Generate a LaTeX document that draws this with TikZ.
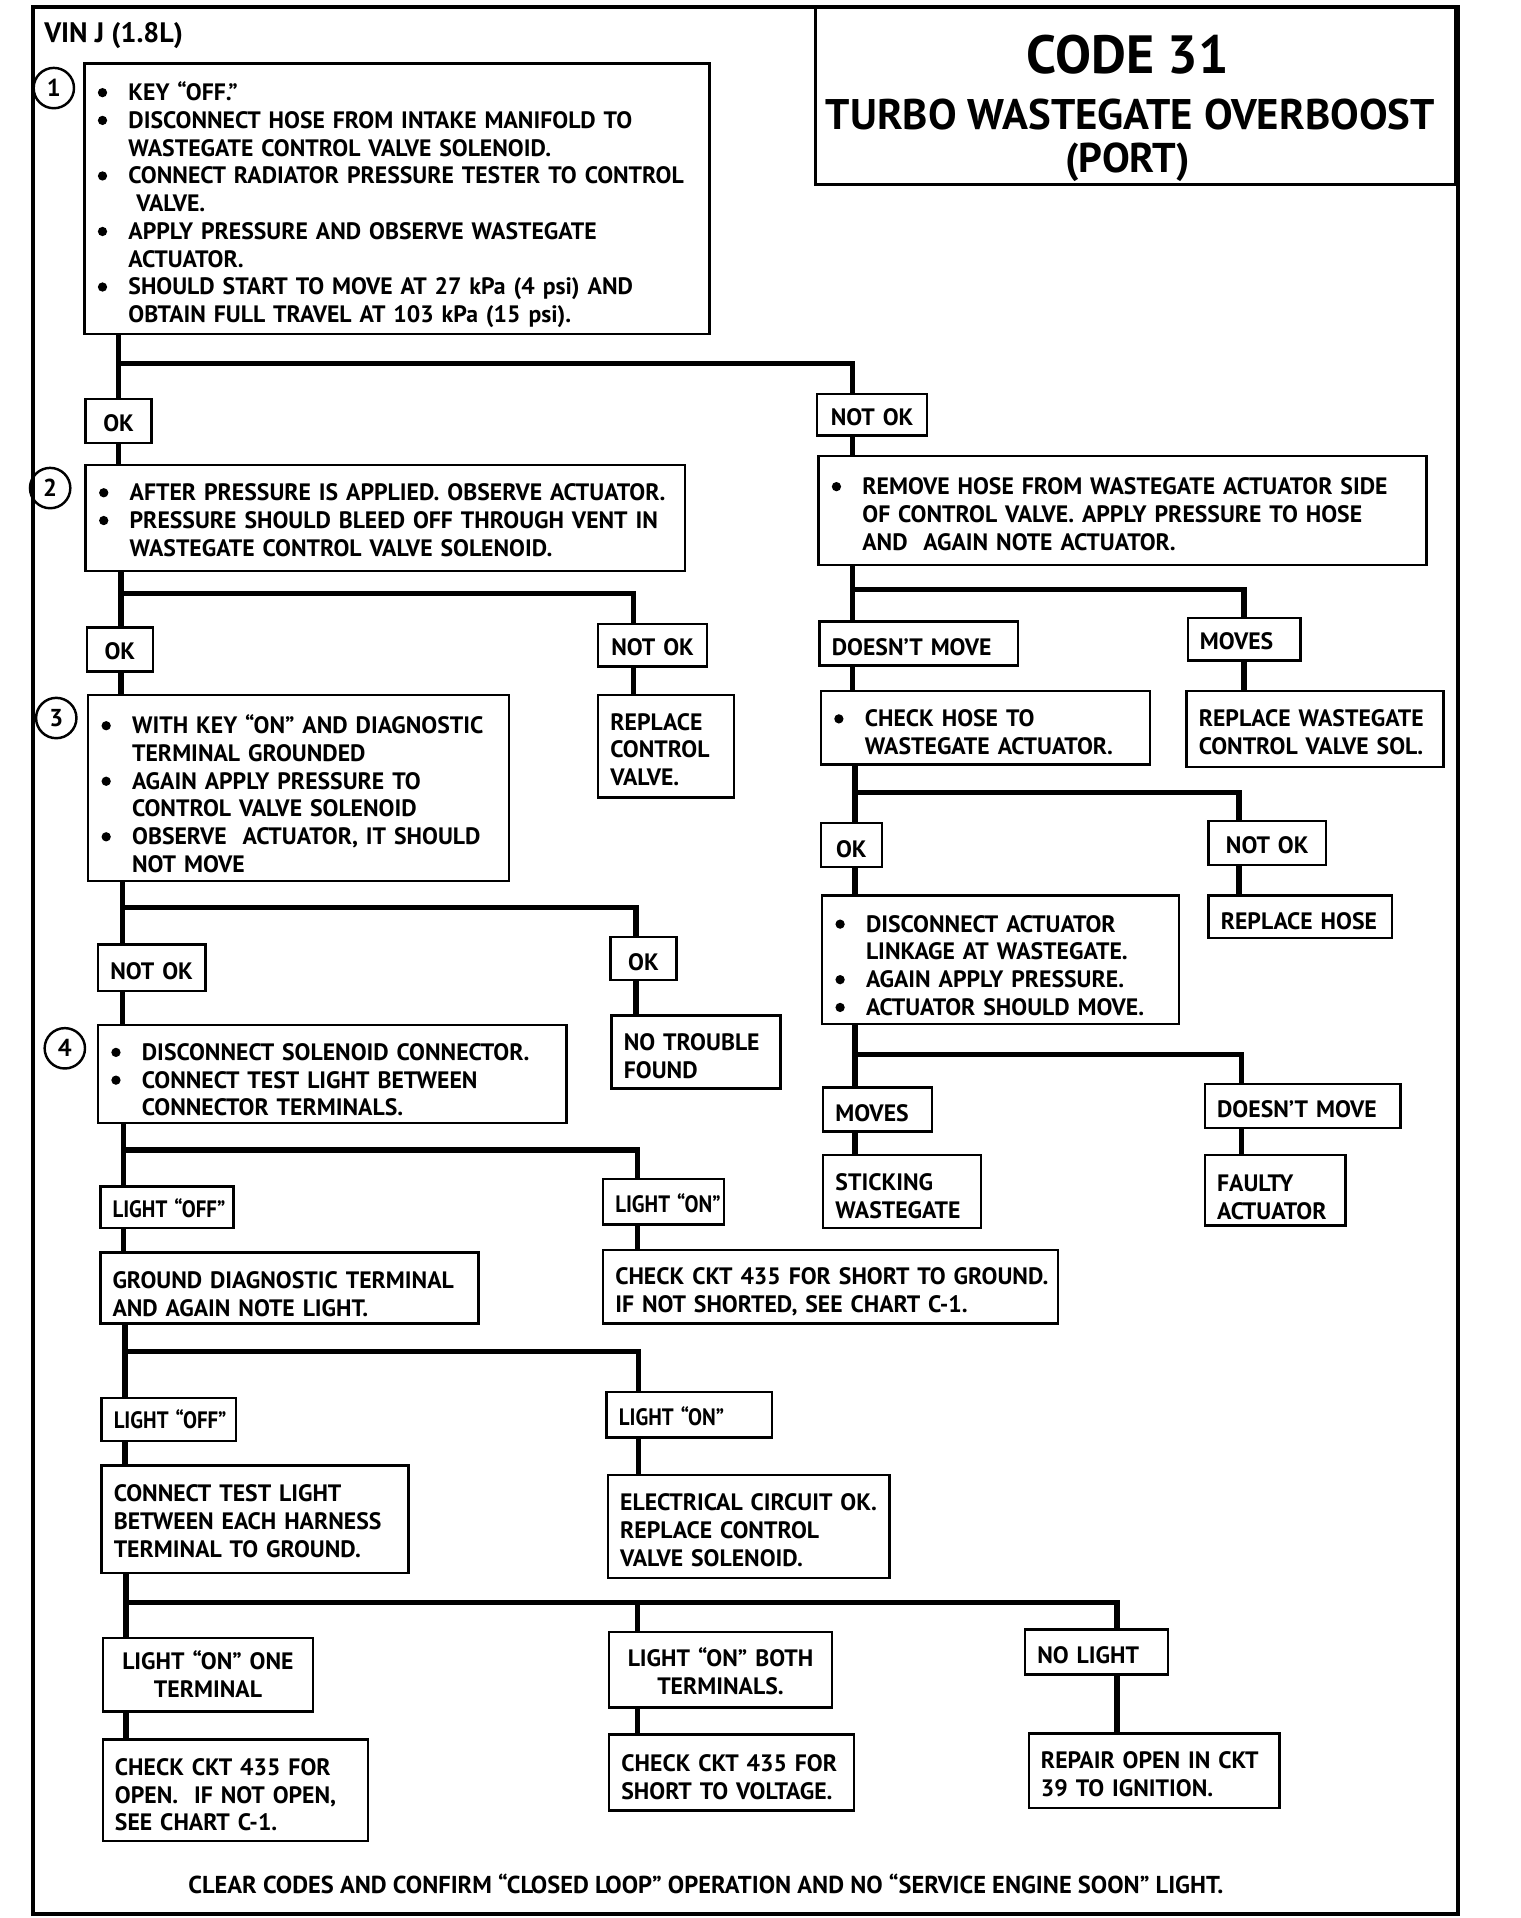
\documentclass[tikz,border=0pt]{standalone}
\usepackage{fontspec}
\usepackage{graphicx}
\setmainfont{PT Sans}
\usetikzlibrary{calc}
\newcommand\bodyfont{\fontsize{19.4}{22.7}\selectfont\bfseries}
\newcommand\bul{\makebox[26pt][l]{\hspace{1pt}\tikz[baseline=-6.5pt,x=1pt,y=1pt]\fill (0,0) circle (3.8pt);}}
\newcommand\ls[1]{\begin{tabular}{@{}l@{}}#1\end{tabular}}
\newcommand\cs[1]{\begin{tabular}{@{}c@{}}#1\end{tabular}}
\newcommand\bs[1]{\begin{tabular}{@{}l@{}l@{}}#1\end{tabular}}
\newcommand\nar[1]{\scalebox{0.88}[1]{#1}}
\newcommand\bxshift{5pt}
\tikzset{
  tsh/.code={\renewcommand\bxshift{#1pt}},
  bxs/.style={draw, line width=2pt, inner xsep=10pt, inner ysep=0pt, outer sep=0pt, align=left, font=\bodyfont},
  ctr/.style={align=center},
  conn/.style={line width=4.5pt},
  num/.style={circle, draw, line width=2pt, minimum size=33pt, inner sep=0pt, font=\fontsize{20}{20}\selectfont\bfseries},
  ttl/.style={anchor=base, inner sep=0pt, font=\fontsize{35}{35}\selectfont\bfseries},
}
\newcommand\bx[7]{%
  \pgfmathsetmacro\bxw{#4-#2}%
  \pgfmathsetmacro\bxh{#5-#3}%
  \pgfmathsetmacro\bxt{#4-#2-20}%
  \node[bxs,tsh=5,#6,minimum width=\bxw pt,minimum height=\bxh pt,text width=\bxt pt,anchor=north west] (#1) at (#2,#3) {\raisebox{-\bxshift}[\height][\depth]{#7}};}
\begin{document}
\begin{tikzpicture}[x=1pt,y=-1pt]
\useasboundingbox (0,0) rectangle (1243,1568);
% frame
\draw[line width=3.5pt] (27,6) rectangle (1192,1565);
% title
\node[draw, line width=2.5pt, minimum width=523pt, minimum height=145pt, anchor=north west, outer sep=0pt] (title) at (667,6) {};
\node[ttl, font=\fontsize{44}{44}\selectfont\bfseries] (t1) at (922,60) {CODE 31};
\node[ttl] (t2) at (924,106) {TURBO WASTEGATE OVERBOOST};
\node[ttl, font=\fontsize{34}{34}\selectfont\bfseries] (t3) at (922,141) {(PORT)};
\node[anchor=base west, inner sep=0pt, font=\fontsize{23}{24}\selectfont\bfseries] (vin) at (36,35) {VIN J (1.8L)};
% step numbers
\node[num] (c1) at (44,72) {1};
\node[num] (c2) at (41,399) {2};
\node[num] (c3) at (46,587) {3};
\node[num] (c4) at (53,857) {4};
% left column
\bx{b1}{69}{52}{580}{273}{tsh=6}{\bs{%
\bul & KEY “OFF.”\\
\bul & DISCONNECT HOSE FROM INTAKE MANIFOLD TO\\
 & WASTEGATE CONTROL VALVE SOLENOID.\\
\bul & CONNECT RADIATOR PRESSURE TESTER TO CONTROL\\
 & \ VALVE.\\
\bul & APPLY PRESSURE AND OBSERVE WASTEGATE\\
 & ACTUATOR.\\
\bul & SHOULD START TO MOVE AT 27 kPa (4 psi) AND\\
 & OBTAIN FULL TRAVEL AT 103 kPa (15 psi).}}
\bx{ok1}{70}{326}{124}{362}{ctr,tsh=2}{OK}
\bx{nok1}{668}{322}{758}{356}{ctr,tsh=4}{\cs{NOT OK}}
\bx{b2}{70}{380}{560}{467}{tsh=4}{\bs{%
\bul & AFTER PRESSURE IS APPLIED. OBSERVE ACTUATOR.\\
\bul & PRESSURE SHOULD BLEED OFF THROUGH VENT IN\\
 & WASTEGATE CONTROL VALVE SOLENOID.}}
\bx{ok2}{71}{513}{125}{549}{ctr,tsh=1}{OK}
\bx{nok2}{489}{510}{578}{545}{ctr,tsh=4}{\cs{NOT OK}}
\bx{rcv}{489}{568}{600}{652}{}{\ls{REPLACE\\CONTROL\\VALVE.}}
\bx{b3}{72}{568}{416}{720}{tsh=8}{\bs{%
\bul & WITH KEY “ON” AND DIAGNOSTIC\\
 & TERMINAL GROUNDED\\
\bul & AGAIN APPLY PRESSURE TO\\
 & CONTROL VALVE SOLENOID\\
\bul & OBSERVE \ ACTUATOR, IT SHOULD\\
 & NOT MOVE}}
\bx{nok3}{80}{772}{168}{810}{ctr}{\cs{NOT OK}}
\bx{ok3}{499}{766}{553}{801}{ctr,tsh=3}{OK}
\bx{ntf}{500}{830}{638}{890}{tsh=6}{\ls{NO TROUBLE\\FOUND}}
\bx{b4}{80}{838}{463}{918}{tsh=7}{\bs{%
\bul & DISCONNECT SOLENOID CONNECTOR.\\
\bul & CONNECT TEST LIGHT BETWEEN\\
 & CONNECTOR TERMINALS.}}
\bx{loff1}{82}{970}{191}{1004}{tsh=4}{\ls{\nar{LIGHT “OFF”}}}
\bx{lon1}{493}{964}{592}{1001}{tsh=4}{\ls{\nar{LIGHT “ON”}}}
\bx{gnd}{82}{1024}{391}{1082}{tsh=7}{\ls{GROUND DIAGNOSTIC TERMINAL\\AND AGAIN NOTE LIGHT.}}
\bx{cks}{493}{1022}{865}{1082}{}{\ls{CHECK CKT 435 FOR SHORT TO GROUND.\\IF NOT SHORTED, SEE CHART C-1.}}
\bx{loff2}{83}{1143}{193}{1178}{tsh=3}{\ls{\nar{LIGHT “OFF”}}}
\bx{lon2}{496}{1138}{631}{1175}{tsh=4}{\ls{\nar{LIGHT “ON”}}}
\bx{ctl}{83}{1198}{334}{1286}{tsh=4}{\ls{CONNECT TEST LIGHT\\BETWEEN EACH HARNESS\\TERMINAL TO GROUND.}}
\bx{elec}{497}{1206}{727}{1290}{}{\ls{ELECTRICAL CIRCUIT OK.\\REPLACE CONTROL\\VALVE SOLENOID.}}
\bx{lone}{84}{1339}{256}{1399}{ctr,tsh=3}{\cs{LIGHT “ON” ONE\\TERMINAL}}
\bx{lboth}{498}{1334}{680}{1396}{ctr,tsh=4}{\cs{LIGHT “ON” BOTH\\TERMINALS.}}
\bx{nol}{838}{1332}{955}{1369}{}{\ls{NO LIGHT}}
\bx{ck1}{84}{1422}{301}{1505}{tsh=6}{\ls{CHECK CKT 435 FOR\\OPEN. \ IF NOT OPEN,\\SEE CHART C-1.}}
\bx{ck2}{498}{1418}{698}{1480}{tsh=6}{\ls{CHECK CKT 435 FOR\\SHORT TO VOLTAGE.}}
\bx{rep}{841}{1417}{1046}{1478}{}{\ls{REPAIR OPEN IN CKT\\39 TO IGNITION.}}
% right column
\bx{rh}{669}{373}{1166}{462}{}{\bs{%
\bul & REMOVE HOSE FROM WASTEGATE ACTUATOR SIDE\\
 & OF CONTROL VALVE. APPLY PRESSURE TO HOSE\\
 & AND \ AGAIN NOTE ACTUATOR.}}
\bx{dm1}{670}{508}{832}{544}{}{\ls{DOESN’T MOVE}}
\bx{mv1}{971}{505}{1063}{540}{tsh=4}{\ls{MOVES}}
\bx{chk}{671}{565}{940}{625}{tsh=6}{\bs{%
\bul & CHECK HOSE TO\\
 & WASTEGATE ACTUATOR.}}
\bx{rwg}{970}{565}{1180}{627}{}{\ls{REPLACE WASTEGATE\\CONTROL VALVE SOL.}}
\bx{ok4}{671}{673}{721}{709}{ctr,tsh=3}{OK}
\bx{nok4}{988}{671}{1084}{707}{ctr,tsh=4}{\cs{NOT OK}}
\bx{dis}{672}{732}{964}{837}{tsh=7}{\bs{%
\bul & DISCONNECT ACTUATOR\\
 & LINKAGE AT WASTEGATE.\\
\bul & AGAIN APPLY PRESSURE.\\
\bul & ACTUATOR SHOULD MOVE.}}
\bx{rhose}{988}{732}{1138}{767}{tsh=6}{\ls{REPLACE HOSE}}
\bx{mv2}{673}{889}{762}{925}{}{\ls{MOVES}}
\bx{dm2}{985}{886}{1145}{922}{}{\ls{DOESN’T MOVE}}
\bx{stick}{673}{944}{802}{1004}{tsh=6}{\ls{STICKING\\WASTEGATE}}
\bx{faulty}{985}{944}{1100}{1002}{tsh=8}{\ls{FAULTY\\ACTUATOR}}
% bottom note
\node[anchor=base, inner sep=0pt, font=\fontsize{20}{22}\selectfont\bfseries] (note) at (577,1548) {CLEAR CODES AND CONFIRM “CLOSED LOOP” OPERATION AND NO “SERVICE ENGINE SOON” LIGHT.};
% junctions
\coordinate (j1) at (97,297);  \coordinate (k1) at (697,297);
\coordinate (j2) at (99,485);  \coordinate (k2) at (518,485);
\coordinate (j3) at (100,742); \coordinate (k3) at (520,742);
\coordinate (j4) at (101,940); \coordinate (k4) at (521,940);
\coordinate (j5) at (102,1105); \coordinate (k5) at (522,1105);
\coordinate (j6) at (103,1310); \coordinate (k6) at (521,1310); \coordinate (m6) at (913,1310);
\coordinate (j7) at (697,482); \coordinate (k7) at (1017,482);
\coordinate (j8) at (699,648); \coordinate (k8) at (1013,648);
\coordinate (j9) at (699,862); \coordinate (k9) at (1015,862);
% connectors
\draw[conn] (b1.south -| j1) -- (ok1.north -| j1);
\draw[conn] (j1) -- (k1) -- (nok1.north -| k1);
\draw[conn] (ok1.south -| j1) -- (b2.north -| j1);
\draw[conn] (nok1.south -| k1) -- (rh.north -| k1);
\draw[conn] (b2.south -| j2) -- (ok2.north -| j2);
\draw[conn] (j2) -- (k2) -- (nok2.north -| k2);
\draw[conn] (ok2.south -| j2) -- (b3.north -| j2);
\draw[conn] (nok2.south -| k2) -- (rcv.north -| k2);
\draw[conn] (b3.south -| j3) -- (nok3.north -| j3);
\draw[conn] (j3) -- (k3) -- (ok3.north -| k3);
\draw[conn] (nok3.south -| j3) -- (b4.north -| j3);
\draw[conn] (ok3.south -| k3) -- (ntf.north -| k3);
\draw[conn] (b4.south -| j4) -- (loff1.north -| j4);
\draw[conn] (j4) -- (k4) -- (lon1.north -| k4);
\draw[conn] (loff1.south -| j4) -- (gnd.north -| j4);
\draw[conn] (lon1.south -| k4) -- (cks.north -| k4);
\draw[conn] (gnd.south -| j5) -- (loff2.north -| j5);
\draw[conn] (j5) -- (k5) -- (lon2.north -| k5);
\draw[conn] (loff2.south -| j5) -- (ctl.north -| j5);
\draw[conn] (lon2.south -| k5) -- (elec.north -| k5);
\draw[conn] (ctl.south -| j6) -- (lone.north -| j6);
\draw[conn] (j6) -- (m6) -- (nol.north -| m6);
\draw[conn] (k6) -- (lboth.north -| k6);
\draw[conn] (lone.south -| j6) -- (ck1.north -| j6);
\draw[conn] (lboth.south -| k6) -- (ck2.north -| k6);
\draw[conn] (nol.south -| m6) -- (rep.north -| m6);
\draw[conn] (rh.south -| j7) -- (dm1.north -| j7);
\draw[conn] (j7) -- (k7) -- (mv1.north -| k7);
\draw[conn] (dm1.south -| j7) -- (chk.north -| j7);
\draw[conn] (mv1.south -| k7) -- (rwg.north -| k7);
\draw[conn] (chk.south -| j8) -- (ok4.north -| j8);
\draw[conn] (j8) -- (k8) -- (nok4.north -| k8);
\draw[conn] (ok4.south -| j8) -- (dis.north -| j8);
\draw[conn] (nok4.south -| k8) -- (rhose.north -| k8);
\draw[conn] (dis.south -| j9) -- (mv2.north -| j9);
\draw[conn] (j9) -- (k9) -- (dm2.north -| k9);
\draw[conn] (mv2.south -| j9) -- (stick.north -| j9);
\draw[conn] (dm2.south -| k9) -- (faulty.north -| k9);
\end{tikzpicture}
\end{document}
